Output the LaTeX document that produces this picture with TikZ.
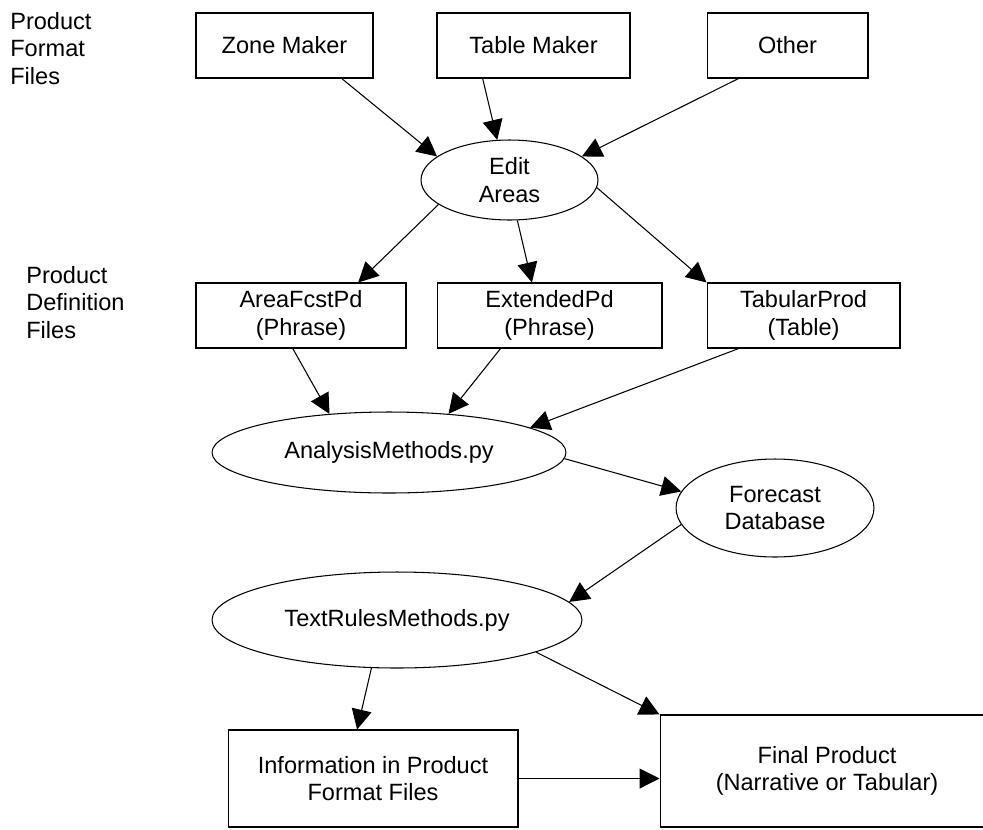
\documentclass[tikz,border=0pt]{standalone}
\usepackage{fontspec}
\setmainfont{Liberation Sans}
\usetikzlibrary{shapes.geometric,arrows.meta}

\begin{document}
\begin{tikzpicture}[
  x=0.02cm, y=-0.02cm,
  filebox/.style={rectangle, draw, line width=0.6pt, inner sep=0pt, minimum height=1.3cm, align=center, font=\fontsize{13.4}{15.6}\selectfont},
  script/.style={ellipse, draw, line width=0.6pt, inner sep=0pt, align=center, font=\fontsize{13.4}{15.6}\selectfont},
  sidelabel/.style={anchor=north west, inner sep=0pt, align=left, font=\fontsize{13.4}{15.6}\selectfont},
  arrow/.style={-{Triangle[length=0.4cm, width=0.4cm]}, line width=0.6pt}
]
  \path[use as bounding box, clip] (0,0) rectangle (983,829);

  \node[sidelabel] (fmtlabel) at (10,12) {Product\\Format\\Files};
  \node[sidelabel] (deflabel) at (26,266) {Product\\Definition\\Files};

  \node[filebox, minimum width=3.54cm] (zone) at (284.5,45.5) {Zone Maker};
  \node[filebox, minimum width=3.86cm] (tablemk) at (533.5,45.5) {Table Maker};
  \node[filebox, minimum width=3.22cm] (other) at (787.5,45.5) {Other};
  \node[script, minimum width=3.54cm, minimum height=1.6cm] (edit) at (509.5,180) {Edit\\Areas};

  \node[filebox, minimum width=4.2cm] (areafcst) at (301,315.5) {AreaFcstPd\\(Phrase)};
  \node[filebox, minimum width=4.5cm] (extended) at (549.5,315.5) {ExtendedPd\\(Phrase)};
  \node[filebox, minimum width=3.86cm] (tabular) at (803.5,315.5) {TabularProd\\(Table)};

  \node[script, minimum width=7.08cm, minimum height=1.62cm] (analysis) at (389,452.5) {AnalysisMethods.py};
  \node[script, minimum width=3.96cm, minimum height=1.96cm] (forecast) at (775,508) {Forecast\\Database};
  \node[script, minimum width=7.4cm, minimum height=1.92cm] (textrules) at (397,620) {TextRulesMethods.py};

  \node[filebox, minimum width=5.8cm, minimum height=1.94cm] (info) at (373,778.5) {Information in Product\\Format Files};
  \node[filebox, minimum width=6.68cm, minimum height=2.24cm] (final) at (827,771) {Final Product\\(Narrative or Tabular)};

  % format files into the edit areas
  \draw[arrow] (zone.-30) -- (edit.162);
  \draw[arrow] (tablemk.-147) -- (edit.107);
  \draw[arrow] (other.-146) -- (edit.18);

  % edit areas out to the product definitions
  \draw[arrow] (edit.199) -- (areafcst.30);
  \draw[arrow] (edit.-79) -- (extended.118);
  \draw[arrow] (edit.-5) -- (tabular.north west);

  \draw[arrow] (areafcst.-104) -- (analysis.147);
  \draw[arrow] (extended.-146) -- (analysis.33);
  \draw[arrow] (tabular.-153) -- (analysis.10);

  \draw[arrow] (analysis.-2) -- (forecast.170);
  \draw[arrow] (forecast.190) -- (textrules.6);

  \draw[arrow] (textrules.-118) -- (info.108);
  \draw[arrow] (textrules.-13) -- (final.north west);
  \draw[arrow] (info.east) -- (info.east -| final.west);
\end{tikzpicture}
\end{document}
